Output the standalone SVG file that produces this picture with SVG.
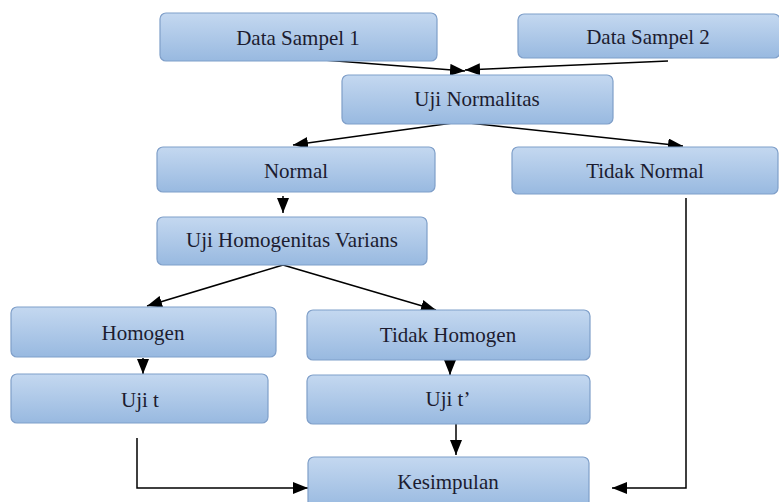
<svg xmlns="http://www.w3.org/2000/svg" width="779" height="502" viewBox="0 0 779 502">
<defs>
<linearGradient id="g" x1="0" y1="0" x2="0" y2="1">
<stop offset="0" stop-color="#c4d8f0"/>
<stop offset="1" stop-color="#98b9e0"/>
</linearGradient>
<marker id="ah" markerUnits="userSpaceOnUse" markerWidth="16" markerHeight="12" refX="15" refY="6" orient="auto">
<path d="M0,0 L15,6 L0,12 Z" fill="#000"/>
</marker>
</defs>
<style>
.box{fill:url(#g);stroke:#7f9fc9;stroke-width:1.2}
text{font-family:'Liberation Serif','Times New Roman','DejaVu Serif',serif;font-size:21px;fill:#1c1c30;text-anchor:middle}
.c{fill:none;stroke:#000;stroke-width:1.5}
.a{marker-end:url(#ah)}
</style>
<rect width="779" height="502" fill="#fff"/>
<g id="connectors">
<line class="c a" x1="285" y1="57" x2="465" y2="71"/>
<line class="c a" x1="668" y1="61" x2="465" y2="70"/>
<line class="c a" x1="460" y1="122" x2="293" y2="145"/>
<line class="c a" x1="460" y1="122" x2="683" y2="146"/>
<line class="c a" x1="283" y1="196" x2="283" y2="213"/>
<line class="c a" x1="283" y1="265" x2="147" y2="306"/>
<line class="c a" x1="283" y1="265" x2="436" y2="310"/>
<line class="c a" x1="143" y1="358" x2="143" y2="374"/>
<line class="c a" x1="450" y1="361" x2="450" y2="375"/>
<line class="c a" x1="456" y1="424" x2="456" y2="455"/>
<polyline class="c a" points="137,438 137,488 308,488"/>
<polyline class="c a" points="686,198 686,488 612,488"/>
</g>
<g id="data-sampel-1"><rect class="box" x="160" y="13" width="277" height="48" rx="6"/><text font-family="Liberation Serif, serif" x="298" y="45">Data Sampel 1</text></g>
<g id="data-sampel-2"><rect class="box" x="518" y="14" width="262" height="44" rx="6"/><text font-family="Liberation Serif, serif" x="648" y="44">Data Sampel 2</text></g>
<g id="uji-normalitas"><rect class="box" x="342" y="75" width="271" height="49" rx="6"/><text font-family="Liberation Serif, serif" x="477" y="106">Uji Normalitas</text></g>
<g id="normal"><rect class="box" x="157" y="147" width="278" height="45" rx="6"/><text font-family="Liberation Serif, serif" x="296" y="178">Normal</text></g>
<g id="tidak-normal"><rect class="box" x="512" y="147" width="266" height="47" rx="6"/><text font-family="Liberation Serif, serif" x="645" y="178">Tidak Normal</text></g>
<g id="uji-homogenitas-varians"><rect class="box" x="157" y="217" width="270" height="48" rx="6"/><text font-family="Liberation Serif, serif" x="292" y="247">Uji Homogenitas Varians</text></g>
<g id="homogen"><rect class="box" x="11" y="307" width="265" height="50" rx="6"/><text font-family="Liberation Serif, serif" x="143" y="340">Homogen</text></g>
<g id="tidak-homogen"><rect class="box" x="307" y="310" width="283" height="50" rx="6"/><text font-family="Liberation Serif, serif" x="448" y="342">Tidak Homogen</text></g>
<g id="uji-t"><rect class="box" x="11" y="374" width="257" height="49" rx="6"/><text font-family="Liberation Serif, serif" x="140" y="407">Uji t</text></g>
<g id="uji-t-aksen"><rect class="box" x="307" y="375" width="283" height="49" rx="6"/><text font-family="Liberation Serif, serif" x="448" y="406">Uji t’</text></g>
<g id="kesimpulan"><rect class="box" x="308" y="457" width="281" height="52" rx="6"/><text font-family="Liberation Serif, serif" x="448" y="489">Kesimpulan</text></g>
</svg>
